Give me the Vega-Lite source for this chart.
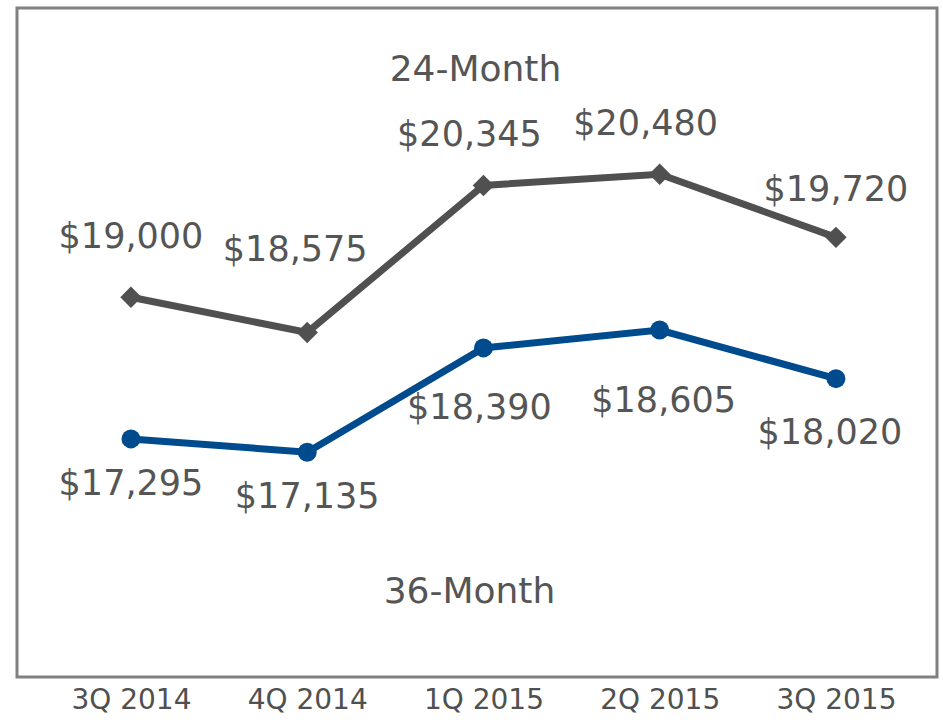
{
  "$schema": "https://vega.github.io/schema/vega-lite/v6.json",
  "width": 920,
  "height": 669,
  "autosize": {"type": "none"},
  "padding": {"left": 17, "top": 8, "right": 6, "bottom": 43},
  "background": "white",
  "config": {
    "view": {"stroke": "#808080", "strokeWidth": 3},
    "font": "DejaVu Sans"
  },
  "data": {
    "values": [
      {"quarter": "3Q 2014", "term": "24-Month", "value": 19000},
      {"quarter": "4Q 2014", "term": "24-Month", "value": 18575},
      {"quarter": "1Q 2015", "term": "24-Month", "value": 20345},
      {"quarter": "2Q 2015", "term": "24-Month", "value": 20480},
      {"quarter": "3Q 2015", "term": "24-Month", "value": 19720},
      {"quarter": "3Q 2014", "term": "36-Month", "value": 17295},
      {"quarter": "4Q 2014", "term": "36-Month", "value": 17135},
      {"quarter": "1Q 2015", "term": "36-Month", "value": 18390},
      {"quarter": "2Q 2015", "term": "36-Month", "value": 18605},
      {"quarter": "3Q 2015", "term": "36-Month", "value": 18020}
    ]
  },
  "encoding": {
    "x": {
      "field": "quarter",
      "type": "ordinal",
      "sort": null,
      "scale": {"type": "point", "padding": 0.61, "align": 0.53},
      "axis": {
        "title": null,
        "domain": false,
        "ticks": false,
        "labelAngle": 0,
        "labelFontSize": 28,
        "labelColor": "#505050",
        "labelPadding": 9
      }
    },
    "y": {
      "field": "value",
      "type": "quantitative",
      "scale": {"domain": [14430, 22480], "zero": false, "nice": false},
      "axis": null
    },
    "color": {
      "field": "term",
      "type": "nominal",
      "scale": {"domain": ["24-Month", "36-Month"], "range": ["#505050", "#004b8d"]},
      "legend": null
    }
  },
  "layer": [
    {"mark": {"type": "line", "strokeWidth": 7}},
    {
      "transform": [{"filter": "datum.term === '24-Month'"}],
      "mark": {"type": "point", "shape": "diamond", "filled": true, "size": 460, "opacity": 1}
    },
    {
      "transform": [{"filter": "datum.term === '36-Month'"}],
      "mark": {"type": "circle", "size": 360, "opacity": 1}
    },
    {
      "transform": [{"filter": "datum.term === '24-Month' && datum.quarter === '3Q 2014'"}],
      "mark": {"type": "text", "fontSize": 35, "dy": -60},
      "encoding": {"text": {"field": "value", "type": "quantitative", "format": "$,.0f"}, "color": {"value": "#555555"}}
    },
    {
      "transform": [{"filter": "datum.term === '24-Month' && datum.quarter === '4Q 2014'"}],
      "mark": {"type": "text", "fontSize": 35, "dy": -83, "dx": -12},
      "encoding": {"text": {"field": "value", "type": "quantitative", "format": "$,.0f"}, "color": {"value": "#555555"}}
    },
    {
      "transform": [{"filter": "datum.term === '24-Month' && (datum.quarter === '1Q 2015' || datum.quarter === '2Q 2015')"}],
      "mark": {"type": "text", "fontSize": 35, "dy": -50, "dx": -14},
      "encoding": {"text": {"field": "value", "type": "quantitative", "format": "$,.0f"}, "color": {"value": "#555555"}}
    },
    {
      "transform": [{"filter": "datum.term === '24-Month' && datum.quarter === '3Q 2015'"}],
      "mark": {"type": "text", "fontSize": 35, "dy": -47},
      "encoding": {"text": {"field": "value", "type": "quantitative", "format": "$,.0f"}, "color": {"value": "#555555"}}
    },
    {
      "transform": [{"filter": "datum.term === '36-Month' && (datum.quarter === '3Q 2014' || datum.quarter === '4Q 2014')"}],
      "mark": {"type": "text", "fontSize": 35, "dy": 45},
      "encoding": {"text": {"field": "value", "type": "quantitative", "format": "$,.0f"}, "color": {"value": "#555555"}}
    },
    {
      "transform": [{"filter": "datum.term === '36-Month' && datum.quarter === '1Q 2015'"}],
      "mark": {"type": "text", "fontSize": 35, "dy": 60, "dx": -4},
      "encoding": {"text": {"field": "value", "type": "quantitative", "format": "$,.0f"}, "color": {"value": "#555555"}}
    },
    {
      "transform": [{"filter": "datum.term === '36-Month' && datum.quarter === '2Q 2015'"}],
      "mark": {"type": "text", "fontSize": 35, "dy": 71, "dx": 4},
      "encoding": {"text": {"field": "value", "type": "quantitative", "format": "$,.0f"}, "color": {"value": "#555555"}}
    },
    {
      "transform": [{"filter": "datum.term === '36-Month' && datum.quarter === '3Q 2015'"}],
      "mark": {"type": "text", "fontSize": 35, "dy": 54, "dx": -6},
      "encoding": {"text": {"field": "value", "type": "quantitative", "format": "$,.0f"}, "color": {"value": "#555555"}}
    },
    {
      "transform": [{"filter": "datum.term === '24-Month' && datum.quarter === '1Q 2015'"}],
      "mark": {"type": "text", "fontSize": 36, "dx": -8},
      "encoding": {
        "x": {"datum": "1Q 2015"},
        "y": {"datum": 21730},
        "text": {"field": "term"},
        "color": {"value": "#555555"}
      }
    },
    {
      "transform": [{"filter": "datum.term === '36-Month' && datum.quarter === '1Q 2015'"}],
      "mark": {"type": "text", "fontSize": 36, "dx": -14},
      "encoding": {
        "x": {"datum": "1Q 2015"},
        "y": {"datum": 15450},
        "text": {"field": "term"},
        "color": {"value": "#555555"}
      }
    }
  ]
}
